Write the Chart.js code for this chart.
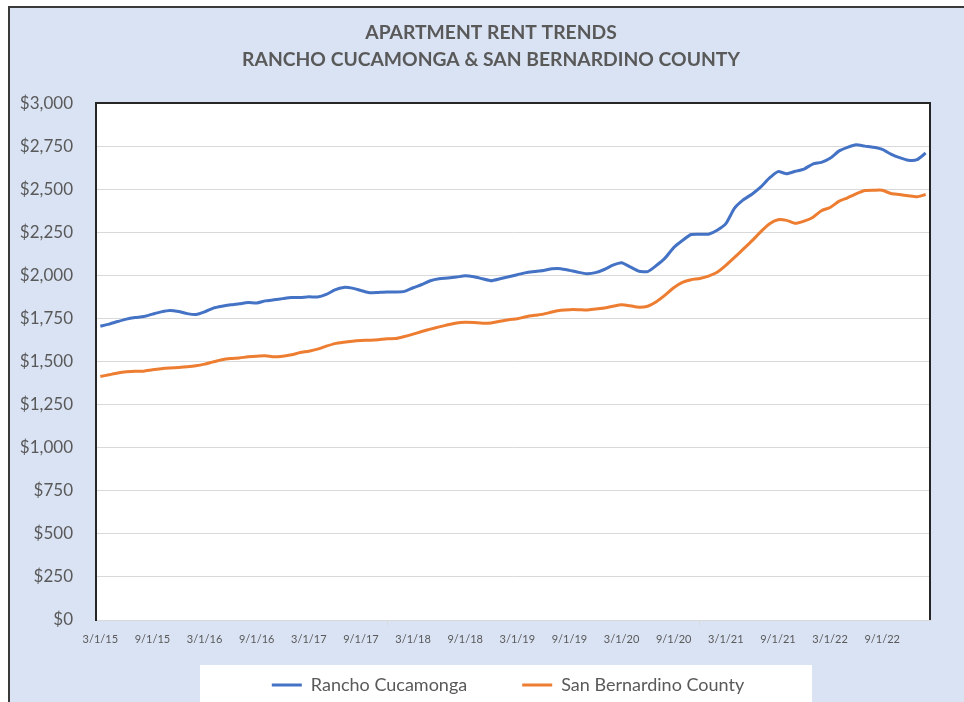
<!DOCTYPE html>
<html lang="en">
<head>
  <meta charset="UTF-8" />
  <title>Apartment Rent Trends</title>
  <script src="https://cdn.jsdelivr.net/npm/chart.js"></script>
  <style>
    body {
      margin: 0;
      background: #ffffff;
      overflow: hidden;
    }
    #frame {
      position: absolute;
      left: 8px;
      top: 6px;
      width: 960px;
      height: 710px;
      border-left: 2px solid #3a3a3a;
      border-top: 2px solid #3a3a3a;
      background: #dae3f3;
    }
    canvas { display: block; }
  </style>
</head>
<body>
  <div id="frame">
    <canvas id="rentChart" width="954" height="700"></canvas>
  </div>

  <script>
    // monthly, 3/1/15 .. 2/1/23
    const months = [
      '3/1/15','4/1/15','5/1/15','6/1/15','7/1/15','8/1/15','9/1/15','10/1/15','11/1/15','12/1/15',
      '1/1/16','2/1/16','3/1/16','4/1/16','5/1/16','6/1/16','7/1/16','8/1/16','9/1/16','10/1/16','11/1/16','12/1/16',
      '1/1/17','2/1/17','3/1/17','4/1/17','5/1/17','6/1/17','7/1/17','8/1/17','9/1/17','10/1/17','11/1/17','12/1/17',
      '1/1/18','2/1/18','3/1/18','4/1/18','5/1/18','6/1/18','7/1/18','8/1/18','9/1/18','10/1/18','11/1/18','12/1/18',
      '1/1/19','2/1/19','3/1/19','4/1/19','5/1/19','6/1/19','7/1/19','8/1/19','9/1/19','10/1/19','11/1/19','12/1/19',
      '1/1/20','2/1/20','3/1/20','4/1/20','5/1/20','6/1/20','7/1/20','8/1/20','9/1/20','10/1/20','11/1/20','12/1/20',
      '1/1/21','2/1/21','3/1/21','4/1/21','5/1/21','6/1/21','7/1/21','8/1/21','9/1/21','10/1/21','11/1/21','12/1/21',
      '1/1/22','2/1/22','3/1/22','4/1/22','5/1/22','6/1/22','7/1/22','8/1/22','9/1/22','10/1/22','11/1/22','12/1/22',
      '1/1/23','2/1/23'
    ];

    const ranchoCucamonga = [
      1705,1717,1732,1746,1755,1761,1775,1788,1796,1790,1778,1773,1788,1810,1821,1829,1835,1842,1840,1852,1858,1865,1871,1871,
      1876,1874,1889,1916,1930,1926,1912,1899,1901,1903,1903,1907,1928,1947,1969,1980,1984,1990,1998,1992,1980,1969,1980,1992,
      2004,2016,2022,2028,2038,2039,2029,2018,2010,2016,2034,2059,2073,2049,2024,2022,2057,2100,2161,2202,2237,2239,2239,2262,
      2300,2390,2438,2471,2512,2564,2602,2590,2604,2617,2646,2656,2679,2721,2743,2758,2750,2743,2731,2704,2683,2668,2671,2710
    ];

    const sanBernardino = [
      1413,1423,1433,1440,1444,1444,1452,1458,1462,1465,1469,1475,1485,1498,1510,1517,1521,1527,1531,1533,1527,1531,1539,1552,
      1560,1572,1589,1604,1612,1618,1622,1624,1627,1632,1633,1645,1659,1674,1688,1701,1713,1724,1728,1726,1722,1724,1734,1743,
      1748,1760,1768,1775,1787,1797,1801,1801,1799,1805,1811,1821,1829,1823,1815,1821,1847,1885,1928,1959,1975,1982,1996,2018,
      2058,2104,2152,2200,2252,2298,2323,2319,2302,2315,2336,2375,2394,2429,2450,2473,2492,2494,2494,2475,2469,2462,2456,2469
    ];

    const seriesNames = ['Rancho Cucamonga', 'San Bernardino County'];
    const titleLines = ['APARTMENT RENT TRENDS', 'RANCHO CUCAMONGA & SAN BERNARDINO COUNTY'];
    const labelEvery = 6;

    const textGrey = '#595959';
    const gridGrey = '#d9d9d9';
    const FONT = 'Lato, "Open Sans", sans-serif';

    // title and legend are not centred on the canvas in the original
    const TITLE_CX = 481;
    const LEGEND_CX = 498;

    const backdrop = {
      id: 'backdrop',
      afterLayout(chart) {
        const t = chart.titleBlock;
        const dt = TITLE_CX - (t.left + t.right) / 2;
        t.left += dt; t.right += dt;
        const l = chart.legend;
        const dl = LEGEND_CX - (l.left + l.right) / 2;
        l.left += dl; l.right += dl;
      },
      beforeDraw(chart) {
        const { ctx, chartArea: a } = chart;
        ctx.save();
        ctx.fillStyle = '#dae3f3';
        ctx.fillRect(0, 0, chart.width, chart.height);
        ctx.fillStyle = '#ffffff';
        ctx.fillRect(a.left, a.top, a.right - a.left, a.bottom - a.top);
        ctx.fillRect(LEGEND_CX - 308, 657, 612, chart.height - 657);
        ctx.restore();
      },
      afterDraw(chart) {
        const { ctx, chartArea: a } = chart;
        ctx.save();
        ctx.strokeStyle = '#262626';
        ctx.lineWidth = 2;
        ctx.beginPath();
        ctx.moveTo(a.left, a.top);
        ctx.lineTo(a.right, a.top);
        ctx.lineTo(a.right, a.bottom);
        ctx.stroke();
        ctx.restore();
      }
    };

    new Chart(document.getElementById('rentChart'), {
      type: 'line',
      data: {
        labels: months,
        datasets: [
          {
            label: seriesNames[0],
            data: ranchoCucamonga,
            borderColor: '#4472c4',
            backgroundColor: '#4472c4',
            borderWidth: 3,
            pointRadius: 0,
            tension: 0.2
          },
          {
            label: seriesNames[1],
            data: sanBernardino,
            borderColor: '#ed7d31',
            backgroundColor: '#ed7d31',
            borderWidth: 3,
            pointRadius: 0,
            tension: 0.2
          }
        ]
      },
      options: {
        responsive: false,
        animation: false,
        layout: { padding: { left: 0, right: 34, top: 0, bottom: 4 } },
        scales: {
          x: {
            offset: true,
            afterFit(scale) { scale.height = 28; },
            border: { display: true, color: gridGrey, width: 1 },
            grid: {
              offset: true,
              drawOnChartArea: false,
              tickLength: 5,
              color: c => (c.index % labelEvery === 0 ? gridGrey : 'rgba(0,0,0,0)')
            },
            ticks: {
              autoSkip: false,
              maxRotation: 0,
              padding: 8,
              color: textGrey,
              font: { family: FONT, size: 11 },
              callback: (v, i) => (i % labelEvery === 0 ? months[i] : null)
            }
          },
          y: {
            min: 0,
            max: 3000,
            afterFit(scale) { scale.width = 86; },
            border: { display: true, color: '#262626', width: 2 },
            grid: { color: gridGrey, lineWidth: 1, drawTicks: false },
            ticks: {
              stepSize: 250,
              padding: 23,
              color: textGrey,
              font: { family: FONT, size: 17 },
              callback: v => '$' + v.toLocaleString('en-US')
            }
          }
        },
        plugins: {
          title: {
            display: true,
            text: titleLines,
            color: textGrey,
            font: { family: FONT, size: 19.3, weight: 'bold', lineHeight: 1.4 },
            padding: { top: 11.5, bottom: 29.5 }
          },
          legend: {
            position: 'bottom',
            labels: {
              usePointStyle: true,
              pointStyle: 'line',
              pointStyleWidth: 30,
              padding: 28,
              color: textGrey,
              font: { family: FONT, size: 18 },
              // widen the gap after the first entry like the original
              generateLabels(chart) {
                const items = Chart.defaults.plugins.legend.labels.generateLabels(chart);
                items[0].text += '\u2003\u2003';
                return items;
              }
            }
          },
          tooltip: { enabled: false }
        }
      },
      plugins: [backdrop]
    });
  </script>
</body>
</html>
